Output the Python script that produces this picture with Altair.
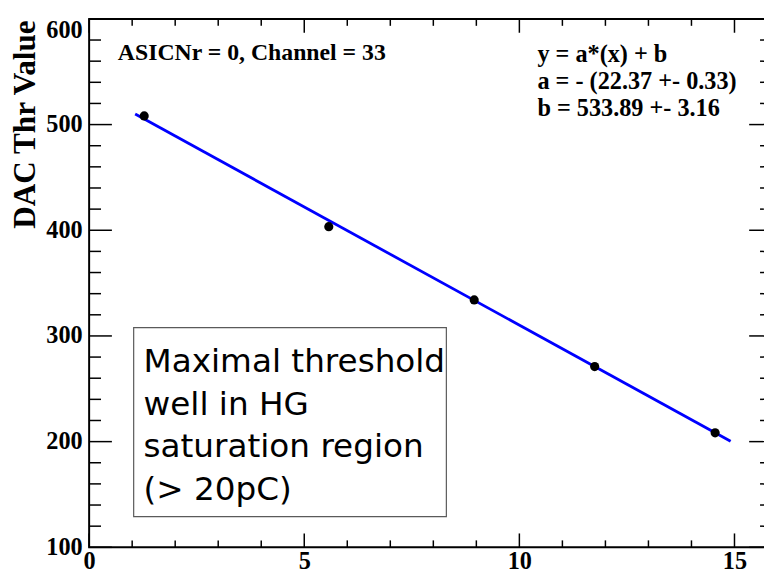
import altair as alt
import pandas as pd

# ---- data ----
x_vals = [1.28, 5.57, 8.95, 11.75, 14.55]
y_vals = [508.2, 403.4, 334.1, 271.0, 208.3]
fit_x = [1.07, 14.91]
fit_y = [510.0, 200.3]

x_major = [0, 5, 10, 15]
x_minor = [1, 2, 3, 4, 6, 7, 8, 9, 11, 12, 13, 14]
y_major = [100, 200, 300, 400, 500, 600]
y_minor = [120, 140, 160, 180, 220, 240, 260, 280, 320, 340, 360, 380,
           420, 440, 460, 480, 520, 540, 560, 580]

x_domain = [0, 15.87]
y_domain = [100, 600]

y_title = "DAC Thr Value"
label_text = "ASICNr = 0, Channel = 33"
fit_lines = ["y = a*(x) + b", "a = - (22.37 +- 0.33)", "b = 533.89 +- 3.16"]
note_lines = ["Maximal threshold", "well in HG", "saturation region", "(> 20pC)"]

W, H = 690, 534
SERIF = "Liberation Serif"

xs = alt.Scale(domain=x_domain, nice=False, zero=False)
ys = alt.Scale(domain=y_domain, nice=False, zero=False)
xax = alt.Axis(values=x_major, format="d", title=None, labelPadding=2)
yax = alt.Axis(
    values=y_major, format="d", title=None, labelPadding=7,
    labelBaseline={"condition": {"test": "datum.value >= 600", "value": "top"},
                   "value": "middle"},
)

pts = pd.DataFrame({"x": x_vals, "y": y_vals})
fit = pd.DataFrame({"x": fit_x, "y": fit_y})
one = pd.DataFrame({"t": ["\n".join(note_lines)]})

# ---- tick rules (inward, ROOT style) ----
def xticks(vals, length, top):
    d = pd.DataFrame({"x": vals})
    if top:
        yy, yy2 = alt.value(0), alt.value(length)
    else:
        yy, yy2 = alt.value(H), alt.value(H - length)
    return alt.Chart(d).mark_rule(color="black", strokeWidth=1.5).encode(
        x=alt.X("x:Q", scale=xs, axis=xax), y=yy, y2=yy2)

def yticks(vals, length, right):
    d = pd.DataFrame({"y": vals})
    if right:
        xx, xx2 = alt.value(W), alt.value(W - length)
    else:
        xx, xx2 = alt.value(0), alt.value(length)
    return alt.Chart(d).mark_rule(color="black", strokeWidth=1.5).encode(
        y=alt.Y("y:Q", scale=ys, axis=yax), x=xx, x2=xx2)

ticks = [
    xticks(x_major, 14, False), xticks(x_minor, 7, False),
    xticks(x_major, 14, True), xticks(x_minor, 7, True),
    yticks(y_major, 23, False), yticks(y_minor, 12, False),
    yticks(y_major, 23, True), yticks(y_minor, 12, True),
]

box = alt.Chart(one).mark_rect(fill="white", stroke="#5a5a5a", strokeWidth=1.2).encode(
    x=alt.value(45), x2=alt.value(361), y=alt.value(312), y2=alt.value(503))

note = alt.Chart(one).mark_text(
    align="left", baseline="alphabetic", font="DejaVu Sans", fontSize=33,
    lineHeight=43, lineBreak="\n", color="black"
).encode(x=alt.value(55), y=alt.value(357), text="t:N")

lab = alt.Chart(pd.DataFrame({"t": [label_text]})).mark_text(
    align="left", baseline="alphabetic", font=SERIF, fontWeight="bold",
    fontSize=24, color="black"
).encode(x=alt.value(29), y=alt.value(42), text="t:N")

fittxt = alt.Chart(pd.DataFrame({"t": ["\n".join(fit_lines)]})).mark_text(
    align="left", baseline="alphabetic", font=SERIF, fontWeight="bold",
    fontSize=24.5, lineHeight=27.5, lineBreak="\n", color="black"
).encode(x=alt.value(453), y=alt.value(43.3), text="t:N")

ytitle = alt.Chart(pd.DataFrame({"t": [y_title]})).mark_text(
    align="left", baseline="alphabetic", font=SERIF, fontWeight="bold",
    fontSize=31.5, angle=270, color="black"
).encode(x=alt.value(-55), y=alt.value(212), text="t:N")

line = alt.Chart(fit).mark_line(color="#0000ff", strokeWidth=2.8).encode(
    x=alt.X("x:Q", scale=xs, axis=xax), y=alt.Y("y:Q", scale=ys, axis=yax))

points = alt.Chart(pts).mark_point(filled=True, color="black", size=85, opacity=1).encode(
    x=alt.X("x:Q", scale=xs, axis=xax),
    y=alt.Y("y:Q", scale=ys, axis=yax))

chart = alt.layer(box, note, *ticks, line, points, lab, fittxt, ytitle).properties(
    width=W, height=H,
    autosize=alt.AutoSizeParams(type="none"),
    padding={"left": 82, "top": 8, "right": -8, "bottom": 27},
    background="white",
).configure_view(
    stroke="black", strokeWidth=2
).configure_axis(
    grid=False, ticks=False, domain=False,
    labelFont=SERIF, labelFontWeight="bold", labelFontSize=24.5,
    labelColor="black", labelFlush=False, labelOverlap=False,
)

chart.save("out.html", embed_options={"renderer": "svg", "actions": False})
